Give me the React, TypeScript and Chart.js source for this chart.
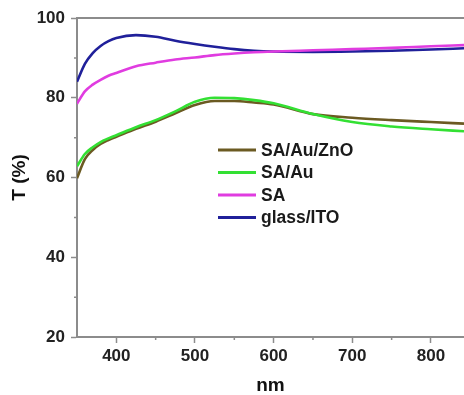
import { useEffect, useRef } from "react";
import { Chart, registerables } from "chart.js";

Chart.register(...registerables);

// Wavelength (nm) sample points shared by all spectra
const wavelengths = [350, 360, 370, 380, 390, 400, 425, 450, 475, 500, 525, 550, 575, 600, 650, 700, 750, 800, 842];

// Transmittance T (%) per sample
const tSaAuZnO = [59.8, 64.6, 66.9, 68.4, 69.4, 70.2, 72.2, 74.0, 76.1, 78.2, 79.2, 79.2, 78.8, 78.3, 75.9, 75.0, 74.4, 73.9, 73.5];
const tSaAu = [62.8, 65.9, 67.6, 68.9, 69.8, 70.6, 72.6, 74.4, 76.6, 79.0, 80.0, 79.9, 79.4, 78.6, 75.9, 73.9, 72.8, 72.1, 71.6];
const tSa = [78.5, 81.6, 83.3, 84.5, 85.5, 86.2, 87.9, 88.8, 89.6, 90.1, 90.7, 91.1, 91.4, 91.6, 91.9, 92.2, 92.5, 92.9, 93.2];
const tGlassIto = [84.0, 88.5, 91.2, 93.0, 94.2, 95.0, 95.7, 95.3, 94.3, 93.5, 92.8, 92.2, 91.8, 91.6, 91.5, 91.6, 91.8, 92.1, 92.4];

const seriesLabels = ["SA/Au/ZnO", "SA/Au", "SA", "glass/ITO"];
const seriesValues = [tSaAuZnO, tSaAu, tSa, tGlassIto];
const seriesColors = ["#6b5a22", "#33e033", "#e03ce0", "#20209a"];
const seriesOrder = [1, 0, 2, 3];

// Axis ranges and tick values
const xMin = 350;
const xMax = 842;
const yMin = 20;
const yMax = 100;
const xMajorTicks = [400, 500, 600, 700, 800];
const xMinorTicks = [450, 550, 650, 750];
const yMajorTicks = [20, 40, 60, 80, 100];
const yMinorTicks = [30, 50, 70, 90];

const FONT = '"Liberation Sans", Arial, sans-serif';
const AXIS_GRAY = "#8c8c8c";

const framePlugin = {
  id: "frame",
  beforeDatasetsDraw(chart: any) {
    const { ctx, chartArea } = chart;
    ctx.save();
    ctx.strokeStyle = AXIS_GRAY;
    ctx.lineWidth = 2;
    ctx.beginPath();
    ctx.moveTo(chartArea.left, chartArea.top);
    ctx.lineTo(chartArea.right + 2, chartArea.top);
    ctx.stroke();
    ctx.restore();
  },
  afterDraw(chart: any) {
    const { ctx, chartArea, scales } = chart;
    ctx.save();
    ctx.strokeStyle = AXIS_GRAY;
    ctx.lineWidth = 1.5;
    ctx.beginPath();
    for (const v of xMinorTicks) {
      const px = scales.x.getPixelForValue(v);
      ctx.moveTo(px, chartArea.bottom);
      ctx.lineTo(px, chartArea.bottom + 3);
    }
    for (const v of yMinorTicks) {
      const py = scales.y.getPixelForValue(v);
      ctx.moveTo(chartArea.left, py);
      ctx.lineTo(chartArea.left - 3, py);
    }
    ctx.stroke();
    ctx.restore();
  },
};

const legendPlugin = {
  id: "insetLegend",
  afterDatasetsDraw(chart: any) {
    const { ctx } = chart;
    const datasets = chart.data.datasets;
    const lineStart = 218;
    const lineEnd = 256;
    const textX = 261;
    const firstRow = 150;
    const rowGap = 22.5;
    ctx.save();
    ctx.font = `bold 17.5px ${FONT}`;
    ctx.textBaseline = "middle";
    ctx.textAlign = "left";
    datasets.forEach((ds: any, i: number) => {
      const y = firstRow + i * rowGap;
      ctx.strokeStyle = ds.borderColor;
      ctx.lineWidth = 3;
      ctx.beginPath();
      ctx.moveTo(lineStart, y);
      ctx.lineTo(lineEnd, y);
      ctx.stroke();
      ctx.fillStyle = "#1a1a1a";
      ctx.fillText(ds.label, textX, y + 1);
    });
    ctx.restore();
  },
};

export default function App() {
  const canvasRef = useRef<HTMLCanvasElement | null>(null);

  useEffect(() => {
    const canvas = canvasRef.current;
    if (!canvas) return;
    const chart = new Chart(canvas, {
      type: "line",
      data: {
        datasets: seriesLabels.map((label, i) => ({
          label,
          data: wavelengths.map((w, j) => ({ x: w, y: seriesValues[i][j] })),
          borderColor: seriesColors[i],
          backgroundColor: seriesColors[i],
          borderWidth: 2.6,
          pointRadius: 0,
          cubicInterpolationMode: "monotone" as const,
          fill: false,
          order: seriesOrder[i],
        })),
      },
      options: {
        responsive: false,
        animation: false,
        devicePixelRatio: 1,
        layout: { padding: { top: 18, left: 0, right: 0, bottom: 0 } },
        plugins: {
          legend: { display: false },
          tooltip: { enabled: false },
        },
        scales: {
          x: {
            type: "linear",
            min: xMin,
            max: xMax,
            afterBuildTicks(scale: any) {
              scale.ticks = xMajorTicks.map((value) => ({ value }));
            },
            afterFit(scale: any) {
              scale.height = 58;
            },
            ticks: {
              padding: 3,
              color: "#222",
              font: { family: FONT, size: 17, weight: "bold" },
            },
            grid: {
              drawOnChartArea: false,
              drawTicks: true,
              tickLength: 6,
              tickColor: AXIS_GRAY,
              tickWidth: 1.5,
            },
            border: { display: true, color: AXIS_GRAY, width: 2 },
            title: {
              display: true,
              text: "nm",
              color: "#111",
              padding: 0,
              font: { family: FONT, size: 19, weight: "bold", lineHeight: 1 },
            },
          },
          y: {
            type: "linear",
            min: yMin,
            max: yMax,
            afterBuildTicks(scale: any) {
              scale.ticks = yMajorTicks.map((value) => ({ value }));
            },
            afterFit(scale: any) {
              scale.width = 77;
            },
            ticks: {
              padding: 6,
              color: "#222",
              font: { family: FONT, size: 17, weight: "bold" },
            },
            grid: {
              drawOnChartArea: false,
              drawTicks: true,
              tickLength: 6,
              tickColor: AXIS_GRAY,
              tickWidth: 1.5,
            },
            border: { display: true, color: AXIS_GRAY, width: 2 },
            title: {
              display: true,
              text: "T (%)",
              color: "#111",
              padding: { top: 8, bottom: 0 },
              font: { family: FONT, size: 19, weight: "bold", lineHeight: 1.2 },
            },
          },
        },
      },
      plugins: [framePlugin, legendPlugin],
    });
    return () => chart.destroy();
  }, []);

  return (
    <div style={{ position: "absolute", left: 0, top: 0, width: 464, height: 395, background: "#fff" }}>
      <canvas ref={canvasRef} width={464} height={395} style={{ width: 464, height: 395, display: "block" }} />
    </div>
  );
}
